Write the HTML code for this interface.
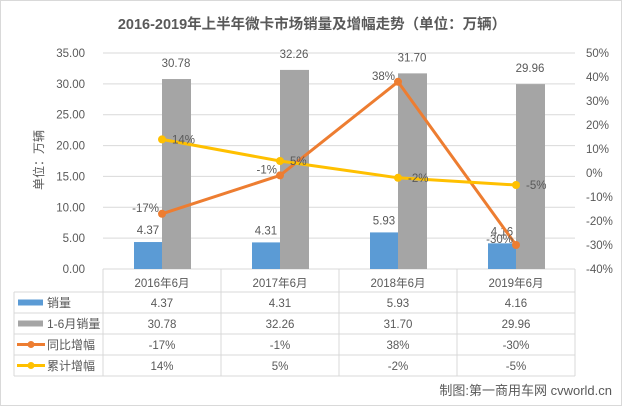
<!DOCTYPE html>
<html><head><meta charset="utf-8"><style>
body{margin:0;background:#fff;}
svg text{font-family:"Liberation Sans","Noto Sans CJK SC",sans-serif;fill:#595959;}
</style></head><body>
<svg width="624" height="408" viewBox="0 0 624 408" xmlns="http://www.w3.org/2000/svg">
<rect x="0.5" y="0.5" width="621" height="405" fill="#fff" stroke="#d9d9d9"/>
<text x="312" y="29" text-anchor="middle" font-size="14.5" font-weight="bold">2016-2019年上半年微卡市场销量及增幅走势（单位：万辆）</text>
<text transform="translate(43,160) rotate(-90)" text-anchor="middle" font-size="12">单位：万辆</text>
<g id="grid"></g><g id="bars"></g><g id="lines"></g><g id="table"></g>
<text x="612" y="395" text-anchor="end" font-size="13" fill="#333">制图:第一商用车网 cvworld.cn</text>
</svg>
<script>
const categories=["2016年6月","2017年6月","2018年6月","2019年6月"];
const sales=[4.37,4.31,5.93,4.16];
const cumSales=[30.78,32.26,31.70,29.96];
const yoy=[-17,-1,38,-30];
const cumGrowth=[14,5,-2,-5];
const leftTicks=[0,5,10,15,20,25,30,35];
const rightTicks=[-40,-30,-20,-10,0,10,20,30,40,50];
const NS="http://www.w3.org/2000/svg";
const X0=103,X1=575,Y0=269,Y1=53;
const cw=(X1-X0)/categories.length;
const xc=i=>X0+cw*(i+0.5);
const yL=v=>Y0-(v/35)*(Y0-Y1);
const yR=v=>Y0-((v+40)/90)*(Y0-Y1);
function mk(t,a,p){const e=document.createElementNS(NS,t);for(const k in a)e.setAttribute(k,a[k]);p.appendChild(e);return e;}
const g=document.getElementById('grid'),b=document.getElementById('bars'),l=document.getElementById('lines'),tb=document.getElementById('table');
leftTicks.forEach(v=>{
 const ln=mk('line',{x1:X0,x2:X1,y1:yL(v),y2:yL(v),stroke:'#d9d9d9'},g);
 
 
 const t=mk('text',{x:85,y:yL(v)+4,'text-anchor':'end','font-size':11.5},g);t.textContent=v.toFixed(2);
 
 
});
rightTicks.forEach(v=>{
 const t=mk('text',{x:586,y:yR(v)+4,'font-size':11.5},g);t.textContent=v+'%';
 
 
});
categories.forEach((c,i)=>{
 const r1=mk('rect',{x:xc(i)-28,y:yL(sales[i]),width:28,height:Y0-yL(sales[i]),fill:'#5b9bd5'},b);
 
 
 const r2=mk('rect',{x:xc(i),y:yL(cumSales[i]),width:29,height:Y0-yL(cumSales[i]),fill:'#a5a5a5'},b);
 
 
 const t1=mk('text',{x:xc(i)-14,y:yL(sales[i])-8,'text-anchor':'middle','font-size':11.5},b);t1.textContent=sales[i].toFixed(2);
 
 
 const t2=mk('text',{x:xc(i)+14,y:yL(cumSales[i])-12,'text-anchor':'middle','font-size':11.5},b);t2.textContent=cumSales[i].toFixed(2);
 
 
});
function series(vals,color,name,labelDx,anchor){
 const pl=mk('polyline',{points:vals.map((v,i)=>xc(i)+','+yR(v)).join(' '),fill:'none',stroke:color,'stroke-width':3},l);
 
 
 vals.forEach((v,i)=>{
  const c=mk('circle',{cx:xc(i),cy:yR(v),r:4,fill:color},l);
  
  
  const t=mk('text',{x:xc(i)+labelDx,y:yR(v)+(anchor==='end'?-2:4),'text-anchor':anchor,'font-size':11.5},l);t.textContent=v+'%';
  
  
 });
}
series(yoy,'#ed7d31','yoy-growth',-3,'end');
series(cumGrowth,'#ffc000','cum-growth',10,'start');
// table
const rowsY=[292,313,334,355,376];
mk('line',{x1:14,x2:X1,y1:rowsY[0],y2:rowsY[0],stroke:'#d9d9d9'},tb);
mk('line',{x1:X0,x2:X0,y1:Y0,y2:rowsY[0],stroke:'#d9d9d9'},tb);
rowsY.slice(1).forEach(y=>mk('line',{x1:14,x2:X1,y1:y,y2:y,stroke:'#d9d9d9'},tb));
[14,X0,X0+cw,X0+2*cw,X0+3*cw,X1].forEach(x=>mk('line',{x1:x,x2:x,y1:x===14?rowsY[0]:Y0,y2:rowsY[4],stroke:'#d9d9d9'},tb));
categories.forEach((c,i)=>{const t=mk('text',{x:xc(i),y:287,'text-anchor':'middle','font-size':11.5},tb);t.textContent=c;
 
 });
const rowNames=["销量","1-6月销量","同比增幅","累计增幅"];
const rowVals=[sales.map(v=>v.toFixed(2)),cumSales.map(v=>v.toFixed(2)),yoy.map(v=>v+'%'),cumGrowth.map(v=>v+'%')];
const rowColors=['#5b9bd5','#a5a5a5','#ed7d31','#ffc000'];
rowNames.forEach((n,r)=>{
 const cy=(rowsY[r]+rowsY[r+1])/2;
 if(r<2){const k=mk('rect',{x:18,y:cy-3,width:25,height:6,fill:rowColors[r]},tb);
  
  }
 else{mk('line',{x1:17,x2:45,y1:cy,y2:cy,stroke:rowColors[r],'stroke-width':3},tb);mk('circle',{cx:31,cy:cy,r:3.5,fill:rowColors[r]},tb);}
 const t=mk('text',{x:47,y:cy+4.5,'font-size':12},tb);t.textContent=n;
 
 
 rowVals[r].forEach((v,i)=>{const tv=mk('text',{x:xc(i),y:cy+4.5,'text-anchor':'middle','font-size':11.5},tb);tv.textContent=v;
  
  });
});
</script>
</body></html>
